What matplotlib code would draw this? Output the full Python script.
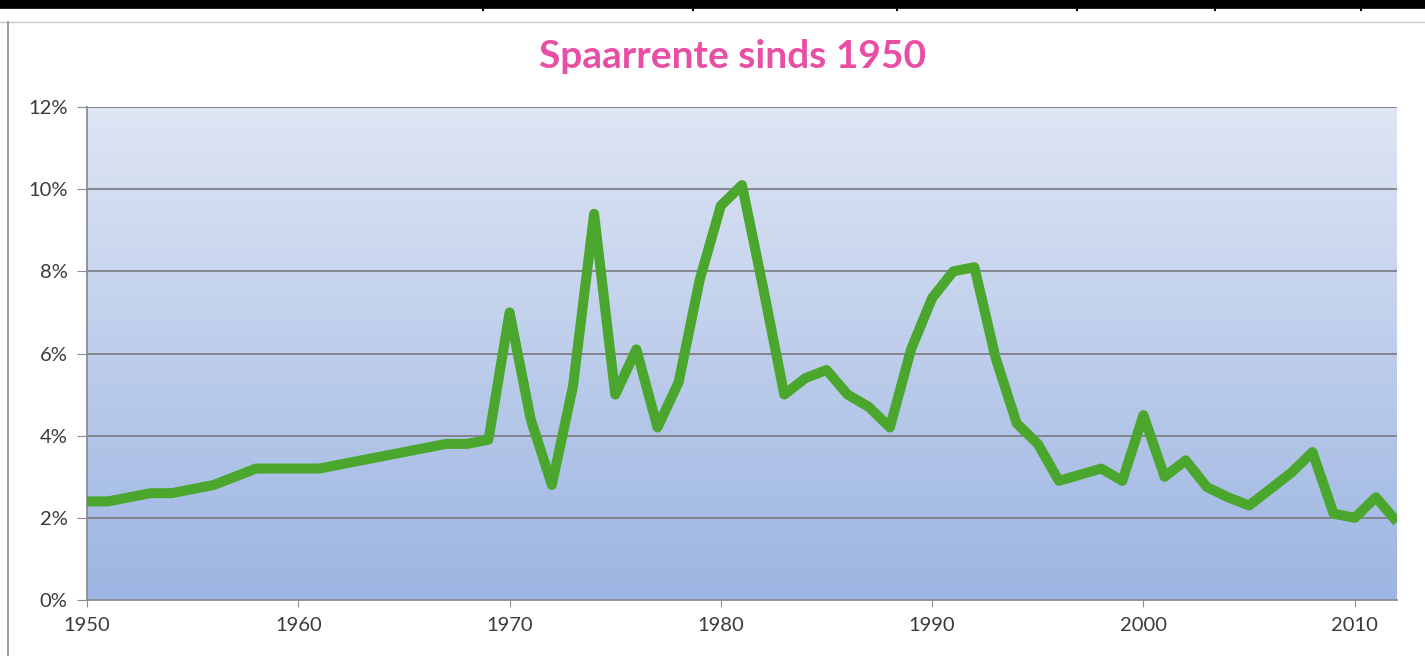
import numpy as np
import matplotlib
matplotlib.use('Agg')
import matplotlib.pyplot as plt
from matplotlib.lines import Line2D
from matplotlib.colors import LinearSegmentedColormap

years = list(range(1950, 2013))
rente = [2.4, 2.4, 2.5, 2.6, 2.6, 2.7, 2.8, 3.0, 3.2, 3.2,
         3.2, 3.2, 3.3, 3.4, 3.5, 3.6, 3.7, 3.8, 3.8, 3.9,
         7.0, 4.4, 2.8, 5.2, 9.4, 5.0, 6.1, 4.2, 5.3, 7.8,
         9.6, 10.1, 7.6, 5.0, 5.4, 5.6, 5.0, 4.7, 4.2, 6.1,
         7.35, 8.0, 8.1, 5.9, 4.3, 3.8, 2.9, 3.05, 3.2, 2.9,
         4.5, 3.0, 3.4, 2.75, 2.5, 2.3, 2.7, 3.1, 3.6, 2.1,
         2.0, 2.5, 1.9]
yticks = [0, 2, 4, 6, 8, 10, 12]
xticks = [1950, 1960, 1970, 1980, 1990, 2000, 2010]

plt.rcParams['font.family'] = ['Lato', 'DejaVu Sans']

fig = plt.figure(figsize=(14.25, 6.56), dpi=100)
ax = fig.add_axes([87/1425, 56/656, 1310/1425, 493/656])

# gradient background of plot area
cmap = LinearSegmentedColormap.from_list('bg', ['#9cb5e2', '#dfe6f4'])
grad = np.linspace(0, 1, 256).reshape(-1, 1)
ax.imshow(grad, cmap=cmap, aspect='auto', origin='lower',
          extent=[1950, 2012, 0, 12], zorder=0)

ax.set_xlim(1950, 2012)
ax.set_ylim(0, 12)
ax.set_yticks(yticks)
ax.set_yticklabels(['{}%'.format(v) for v in yticks])
ax.set_xticks(xticks)
for v in yticks[1:]:
    ax.axhline(v, color='#7f7f86', lw=1.3, zorder=1)

ax.plot(years, rente, color='#4aa62c', lw=7.2, solid_joinstyle='round',
        solid_capstyle='butt', zorder=3)

for s in ['top', 'right']:
    ax.spines[s].set_visible(False)
for s in ['left', 'bottom']:
    ax.spines[s].set_color('#8c8c94')
    ax.spines[s].set_linewidth(1.3)
ax.tick_params(axis='both', colors='#8c8c94', labelcolor='#3a3a3a',
               labelsize=14.5)
ax.tick_params(axis='y', length=7, pad=7)
ax.tick_params(axis='x', length=5, pad=7)

fig.text(733/1425, 1 - 56/656, 'Spaarrente sinds 1950', color='#e84ea4',
         fontsize=28, fontweight='bold', ha='center', va='center')

# page frame around the chart
fig.add_artist(Line2D([0, 1], [1 - 4/656, 1 - 4/656], color='black', lw=7))
for x in [483, 693, 897, 1077, 1215, 1361]:
    fig.add_artist(Line2D([x/1425, x/1425], [1, 1 - 10/656], color='black', lw=1.5))
fig.add_artist(Line2D([0, 1], [1 - 22/656, 1 - 22/656], color='#c8c8c8', lw=1))
fig.add_artist(Line2D([8/1425, 8/1425], [0, 1 - 22/656], color='#8a8a8a', lw=1.2))

fig.savefig('out.png', dpi=100)
